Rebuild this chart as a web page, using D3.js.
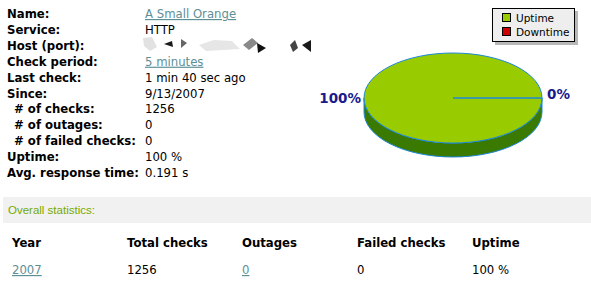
<!DOCTYPE html>
<html>
<head>
  <style>
    body { margin: 0; background: #fff; }
    svg { display: block; font-family: "DejaVu Sans", Verdana, sans-serif; }
  </style>
</head>
<body>
  <script src="https://cdnjs.cloudflare.com/ajax/libs/d3/7.8.5/d3.min.js"></script>
  <svg id="page" width="591" height="285"></svg>
  <script>
    // monitor details
    var infoLabels = ["Name:", "Service:", "Host (port):", "Check period:", "Last check:", "Since:",
      "# of checks:", "# of outages:", "# of failed checks:", "Uptime:", "Avg. response time:"];
    var infoValues = ["A Small Orange", "HTTP", "", "5 minutes", "1 min 40 sec ago", "9/13/2007",
      "1256", "0", "0", "100 %", "0.191 s"];
    var infoLinks = [true, false, false, true, false, false, false, false, false, false, false];
    var infoIndent = [0, 0, 0, 0, 0, 0, 1, 1, 1, 0, 0];

    // pie data
    var pieLabels = ["Uptime", "Downtime"];
    var pieValues = [100, 0];
    var pieColors = ["#99cc00", "#cc0000"];

    // yearly table
    var tableHeaders = ["Year", "Total checks", "Outages", "Failed checks", "Uptime"];
    var tableRows = [["2007", "1256", "0", "0", "100 %"]];
    var tableLinkCols = [0, 2];

    var svg = d3.select("#page");
    var linkColor = "#5d8f96";

    //info block
    var rowY = d3.scaleLinear().domain([0, 10]).range([18, 177]);
    var info = svg.append("g");
    info.selectAll(".lbl")
      .data(infoLabels)
      .enter()
      .append("text")
      .attr("x", function(d, i) { return 7 + infoIndent[i] * 7; })
      .attr("y", function(d, i) { return rowY(i); })
      .attr("font-size", 11.7)
      .attr("font-weight", "bold")
      .attr("fill", "#000")
      .text(function(d) { return d; });

    info.selectAll(".val")
      .data(infoValues)
      .enter()
      .append("text")
      .attr("x", 145)
      .attr("y", function(d, i) { return rowY(i); })
      .attr("font-size", 11.7)
      .attr("fill", function(d, i) { return infoLinks[i] ? linkColor : "#000"; })
      .attr("text-decoration", function(d, i) { return infoLinks[i] ? "underline" : null; })
      .text(function(d) { return d; });

    // host is blurred out in the original, rough grey smudges
    var smudges = [
      [[143, 38], [152, 37], [157, 47], [150, 51], [144, 46]],
      [[164, 44], [172, 41], [173, 47]],
      [[181, 39], [187, 43], [181, 48]],
      [[199, 45], [214, 40], [232, 41], [240, 49], [206, 51]],
      [[243, 45], [252, 38], [258, 43], [249, 50]],
      [[257, 43], [266, 48], [258, 53]],
      [[290, 45], [295, 40], [298, 48], [293, 52]],
      [[302, 45], [311, 40], [311, 52]]
    ];
    var smudgeFill = ["#e2e2e2", "#1a1a1a", "#666", "#e6e6e6", "#8a8a8a", "#111", "#444", "#1a1a1a"];
    info.selectAll(".smudge")
      .data(smudges)
      .enter()
      .append("polygon")
      .attr("points", function(d) { return d.map(function(p) { return p.join(","); }).join(" "); })
      .attr("fill", function(d, i) { return smudgeFill[i]; });

    //3d pie
    var cx = 453, cy = 98, rx = 89, ry = 45, depth = 14;
    var edge = "#1e88d8";
    var pie = d3.pie().sort(null).startAngle(Math.PI / 2).endAngle(Math.PI / 2 + 2 * Math.PI);
    var arcs = pie(pieValues);
    var arc = d3.arc().innerRadius(0).outerRadius(1);

    svg.append("path")
      .attr("d", "M" + (cx + rx) + "," + cy +
        " A" + rx + "," + ry + " 0 0 1 " + (cx - rx) + "," + cy +
        " L" + (cx - rx) + "," + (cy + depth) +
        " A" + rx + "," + ry + " 0 0 0 " + (cx + rx) + "," + (cy + depth) + " Z")
      .attr("fill", "#3a7a00")
      .attr("stroke", edge)
      .attr("stroke-width", 1);

    var pieTop = svg.append("g")
      .attr("transform", "translate(" + cx + "," + cy + ") scale(" + rx + "," + ry + ")");
    pieTop.selectAll("path")
      .data(arcs)
      .enter()
      .append("path")
      .attr("d", arc)
      .attr("fill", function(d, i) { return pieColors[i]; })
      .attr("stroke", edge)
      .attr("stroke-width", 1)
      .attr("vector-effect", "non-scaling-stroke");

    // percentage labels
    var total = d3.sum(pieValues);
    svg.append("text")
      .attr("x", cx - rx - 3).attr("y", cy + 5)
      .attr("text-anchor", "end")
      .attr("font-size", 13.5).attr("font-weight", "bold").attr("fill", "#1a1a8c")
      .text(Math.round(pieValues[0] / total * 100) + "%");
    svg.append("text")
      .attr("x", cx + rx + 5).attr("y", cy + 1)
      .attr("font-size", 13.5).attr("font-weight", "bold").attr("fill", "#1a1a8c")
      .text(Math.round(pieValues[1] / total * 100) + "%");

    //legend
    var lg = svg.append("g").attr("transform", "translate(492,8)");
    lg.append("rect").attr("x", 3).attr("y", 3).attr("width", 83).attr("height", 34).attr("fill", "#b8b8b8");
    lg.append("rect").attr("x", 0.5).attr("y", 0.5).attr("width", 82).attr("height", 33)
      .attr("fill", "#eeeeee").attr("stroke", "#000");
    var li = lg.selectAll(".item").data(pieLabels).enter().append("g")
      .attr("transform", function(d, i) { return "translate(10," + (5 + i * 14) + ")"; });
    li.append("rect").attr("x", 0.5).attr("y", 0.5).attr("width", 8).attr("height", 8)
      .attr("fill", function(d, i) { return pieColors[i]; }).attr("stroke", "#000");
    li.append("text").attr("x", 14).attr("y", 9).attr("font-size", 10.5).attr("fill", "#000")
      .text(function(d) { return d; });

    //overall statistics band
    svg.append("rect").attr("x", 3).attr("y", 197).attr("width", 588).attr("height", 26).attr("fill", "#f1f1f1");
    svg.append("text").attr("x", 8).attr("y", 214)
      .attr("font-family", "'Liberation Sans', Arial, sans-serif")
      .attr("font-size", 11.5).attr("fill", "#77aa00")
      .text("Overall statistics:");

    var colX = d3.scalePoint().domain(d3.range(tableHeaders.length)).range([12, 472]);
    svg.selectAll(".th").data(tableHeaders).enter().append("text")
      .attr("x", function(d, i) { return colX(i); })
      .attr("y", 247)
      .attr("font-size", 11.7).attr("font-weight", "bold").attr("fill", "#000")
      .text(function(d) { return d; });

    tableRows.forEach(function(row, r) {
      svg.selectAll(".td" + r).data(row).enter().append("text")
        .attr("x", function(d, i) { return colX(i); })
        .attr("y", 274 + r * 18)
        .attr("font-size", 11.7)
        .attr("fill", function(d, i) { return tableLinkCols.indexOf(i) >= 0 ? linkColor : "#000"; })
        .attr("text-decoration", function(d, i) { return tableLinkCols.indexOf(i) >= 0 ? "underline" : null; })
        .text(function(d) { return d; });
    });
  </script>
</body>
</html>
